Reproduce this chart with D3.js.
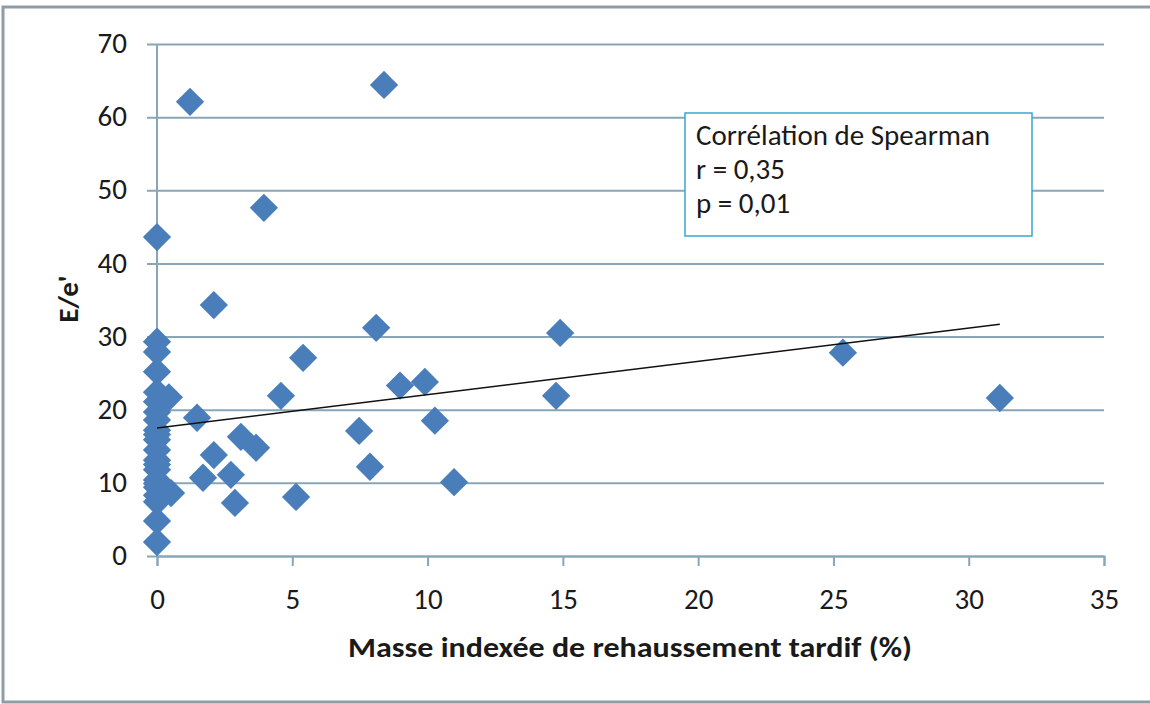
<!DOCTYPE html>
<html>
<head>
<meta charset="utf-8">
<script src="https://cdn.jsdelivr.net/npm/d3@7"></script>
<style>
  body { margin: 0; background: #fff; }
  svg { display: block; font-family: Carlito, Calibri, "Liberation Sans Narrow", "Open Sans", sans-serif; }
</style>
</head>
<body>
<svg width="1150" height="704"></svg>
<script>
// waarden
var massX = [1.22, 8.39, 3.95, 0, 2.1, 8.1, 14.9, 0, 0, 5.4, 25.35, 0, 4.58, 0.44, 0, 8.98, 9.9, 14.75, 31.15,
  1.48, 10.27, 0, 7.47, 3.1, 3.66, 2.1, 7.87, 1.7, 2.73, 10.98, 2.88, 5.14, 0.52,
  0, 0, 0, 0, 0, 0, 0, 0, 0, 0, 0, 0, 0, 0, 0, 0];
var eRatio = [62.1, 64.4, 47.6, 43.6, 34.3, 31.2, 30.5, 29.3, 27.9, 27.1, 27.8, 25.2, 21.9, 21.7, 22.4, 23.3, 23.8, 21.9, 21.6,
  18.9, 18.5, 21.1, 17.1, 16.3, 14.8, 13.8, 12.2, 10.7, 11.1, 10.1, 7.25, 8.07, 8.6,
  19.7, 18.6, 17.2, 15.9, 14.5, 13.1, 11.8, 10.4, 9.4, 8.3, 7.4, 4.8, 1.9, 16.6, 12.5, 9.9];
var trendX = [0, 31.15];
var trendY = [17.5, 31.7];
var xTicks = [0, 5, 10, 15, 20, 25, 30, 35];
var yTicks = [0, 10, 20, 30, 40, 50, 60, 70];
var legendLines = ["Corrélation de Spearman", "r = 0,35", "p = 0,01"];

var svg = d3.select("svg"),
    margin = {top: 44, right: 46, bottom: 148, left: 157},
    width = 1150 - margin.left - margin.right,
    height = 704 - margin.top - margin.bottom;

// kader rond de figuur
svg.append("rect")
  .attr("x", 3).attr("y", 7)
  .attr("width", 1160).attr("height", 695)
  .attr("fill", "none")
  .attr("stroke", "#8f9ea6")
  .attr("stroke-width", 3);

var g = svg.append("g").attr("transform", "translate(" + margin.left + "," + margin.top + ")");

var x = d3.scaleLinear().domain([0, 35]).range([0, width]);
var y = d3.scaleLinear().domain([0, 70]).range([height, 0]);

var lineColor = "#88a6b7";
var textColor = "#1a1a1a";

// horizontale rasterlijnen + y-as
var yAxis = g.append("g")
  .call(d3.axisLeft(y).tickValues(yTicks).tickSize(-width - 10).tickPadding(20).tickFormat(d3.format("d")))
  .attr("transform", "translate(-10,0)")
  .attr("font-family", null).attr("font-size", null);
yAxis.select(".domain").remove();
yAxis.selectAll(".tick line").attr("stroke", lineColor).attr("stroke-width", 2).attr("x1", 0).attr("x2", width + 10);
yAxis.selectAll(".tick text").attr("font-size", 29).attr("fill", textColor).attr("dy", "0.3em");

// verticale as
g.append("line")
  .attr("x1", x(0)).attr("x2", x(0))
  .attr("y1", y(70)).attr("y2", y(0))
  .attr("stroke", lineColor).attr("stroke-width", 2);

var xAxis = g.append("g")
  .attr("transform", "translate(0," + height + ")")
  .call(d3.axisBottom(x).tickValues(xTicks).tickSize(10).tickPadding(22).tickFormat(d3.format("d")))
  .attr("font-family", null).attr("font-size", null);
xAxis.select(".domain").attr("stroke", lineColor).attr("stroke-width", 2);
xAxis.selectAll(".tick line").attr("stroke", lineColor).attr("stroke-width", 2);
xAxis.selectAll(".tick text").attr("font-size", 29).attr("fill", textColor);

// punten als ruiten
var pts = massX.map(function(d, i) { return [d, eRatio[i]]; });
g.append("g")
  .selectAll("path")
  .data(pts)
  .enter().append("path")
  .attr("d", d3.symbol().type(d3.symbolSquare).size(400))
  .attr("transform", function(d) { return "translate(" + x(d[0]) + "," + y(d[1]) + ") rotate(45)"; })
  .attr("fill", "#4a7ebb");

// trendlijn
g.append("line")
  .attr("x1", x(trendX[0])).attr("y1", y(trendY[0]))
  .attr("x2", x(trendX[1])).attr("y2", y(trendY[1]))
  .attr("stroke", "#111").attr("stroke-width", 1.5);

// legenda met Spearman
var leg = svg.append("g").attr("transform", "translate(685,113)");
leg.append("rect")
  .attr("width", 347).attr("height", 123)
  .attr("fill", "#fff")
  .attr("stroke", "#3aa6cf").attr("stroke-width", 1.5);
leg.selectAll("text")
  .data(legendLines)
  .enter().append("text")
  .attr("x", 11)
  .attr("y", function(d, i) { return 32 + i * 34; })
  .attr("font-size", 29)
  .attr("fill", textColor)
  .text(function(d) { return d; });

// astitels
svg.append("text")
  .attr("x", 348).attr("y", 657)
  .attr("textLength", 564).attr("lengthAdjust", "spacingAndGlyphs")
  .attr("font-size", 29).attr("font-weight", "bold")
  .attr("fill", textColor)
  .text("Masse indexée de rehaussement tardif (%)");

svg.append("text")
  .attr("transform", "translate(78,299) rotate(-90)")
  .attr("text-anchor", "middle")
  .attr("font-size", 29).attr("font-weight", "bold")
  .attr("fill", textColor)
  .text("E/e'");
</script>
</body>
</html>
